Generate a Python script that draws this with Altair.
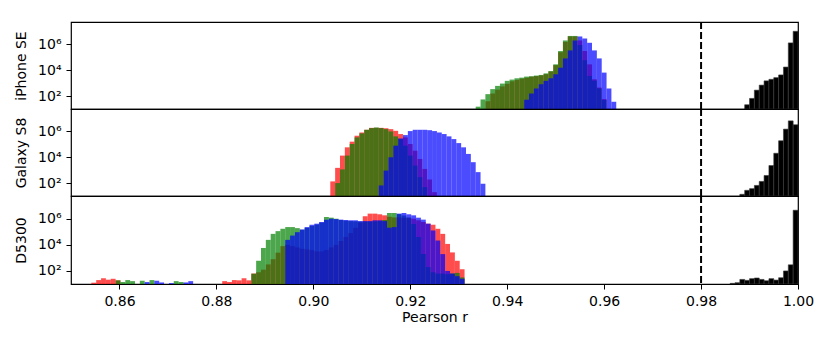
import altair as alt
import pandas as pd

# ---------------- constants ----------------
BIN_WIDTH = 0.001
X_MIN, X_MAX = 0.85, 1.00
Y_MIN, Y_MAX = 10, 5.5e7
X_TICKS = [0.86, 0.88, 0.90, 0.92, 0.94, 0.96, 0.98, 1.00]
Y_TICKS = [1e2, 1e4, 1e6]
THRESHOLD = 0.98
PANELS = ["iPhone SE", "Galaxy S8", "D5300"]
X_TITLE = "Pearson r"

# Histogram heights as log10(count); None = empty bin
# ---- iPhone SE ----
iphone_red_start = 0.9355
iphone_red_log10 = [1.6, 2.2, 2.5, 2.75, 2.95, 3.15, 3.25, 3.35, 3.42, 3.5, 3.55, 3.6,
                    3.7, 3.9, 4.4, 5.4, 6.2, 6.62, 6.62, 6.31, 5.5, 4.46, 3.3, 2.66, 1.77]
iphone_green_start = 0.9335
iphone_green_log10 = [1.18, 1.74, 2.15, 2.54, 2.79, 2.97, 3.18, 3.28, 3.38, 3.43, 3.51, 3.54,
                      3.59, 3.64, 3.76, 3.94, 4.46, 5.49, 6.31, 6.66, 6.66, 5.95, 4.77, 3.56,
                      3.2, 2.6, 1.7]
iphone_blue_start = 0.9435
iphone_blue_log10 = [1.72, 2.2, 2.59, 2.92, 3.18, 3.38, 3.69, 4.2, 4.92, 5.54, 6.31, 6.62,
                     6.46, 6.13, 5.54, 4.92, 3.82, 2.59, 1.56]
iphone_black_start = 0.989
iphone_black_log10 = [1.33, 1.82, 2.46, 2.85, 3.18, 3.3, 3.43, 3.64, 4.25, 6.12, 7.02]

# ---- Galaxy S8 ----
galaxy_red_start = 0.9035
galaxy_red_log10 = [2.13, 3.18, 4.13, 4.77, 5.21, 5.67, 5.92, 6.13, 6.28, 6.28, 6.28, 6.25,
                    6.18, 6.05, 5.8, 5.54, 5.03, 4.51, 3.87, 3.1, 2.28, 1.3]
galaxy_green_start = 0.9045
galaxy_green_log10 = [2.0, 3.06, 4.13, 5.03, 5.54, 5.85, 6.13, 6.26, 6.31, 6.26, 6.18, 6.0,
                      5.62, 5.41, 4.9, 4.13, 3.36, 2.46, 1.69]
galaxy_blue_start = 0.9135
galaxy_blue_log10 = [1.82, 2.97, 4.0, 4.9, 5.46, 5.72, 6.03, 6.13, 6.13, 6.13, 6.1, 6.03,
                     5.92, 5.8, 5.62, 5.41, 5.1, 4.77, 4.26, 3.62, 2.85, 1.95]
galaxy_black_start = 0.988
galaxy_black_log10 = [1.13, 1.44, 1.57, 1.82, 2.13, 2.59, 3.36, 4.31, 5.28, 6.18, 6.82, 6.52]

# ---- D5300 ----
d5300_red_start = 0.8542
d5300_red_log10 = ([1.1, 1.3, 1.44, 1.33, 1.4, 1.28] + [None] * 21 +
                   [1.22, 1.15, 1.3, 1.28, 1.44, 1.28] +
                   [1.8, 1.9, 2.1, 2.5, 2.9, 3.4, 3.9, 4.0, 3.9, 3.8, 3.7, 3.65, 3.6, 3.5,
                    3.5, 3.6, 3.8, 4.0, 4.3, 4.6, 4.9, 5.3, 5.7, 6.19, 6.39, 6.39, 6.34, 6.26,
                    6.15, 6.1, 6.1, 6.08, 6.05, 6.0, 5.88, 5.75, 5.62, 5.54, 5.23, 4.84, 4.07,
                    3.42, 2.78, 2.13])
d5300_green_start = 0.8542
d5300_green_log10 = ([None] * 5 + [1.28, 1.15, 1.3, 1.22, None, 1.25, None, 1.3] + [None] * 4 +
                     [1.22, 1.15] + [None] * 14 +
                     [1.79, 2.78, 3.76, 4.38, 4.84, 5.05, 5.23, 5.36, 5.36, 5.28, 5.15, 5.3,
                      5.45, 5.55, 5.7, 6.13, 6.08, 6.0, 5.9, 5.85, 5.82, 5.8, 5.78, 5.78, 5.78,
                      5.8, 5.82, 5.9, 6.44, 6.44, 6.35, 6.25, 6.1, 5.6, 4.6, 3.3, 2.3, 1.9, 1.8,
                      1.8, 1.75, 1.8, 1.85, 1.5])
d5300_blue_start = 0.8542
d5300_blue_log10 = ([None] * 11 + [1.15, None, 1.25, 1.12, None, 1.07, None, None, 1.12, 1.22] +
                    [None] * 19 +
                    [4.38, 4.71, 4.97, 5.18, 5.36, 5.54, 5.62, 5.75, 5.93, 6.0, 5.97, 5.93,
                     5.9, 5.88, 5.88, 5.82, 5.82, 5.82, 5.88, 5.88, 5.82, 5.31, 5.36, 6.39,
                     6.44, 6.34, 6.26, 6.08, 5.93, 5.62, 5.1, 4.33, 3.29, 2.0, 1.8, 1.6, 1.4])
d5300_black_start = 0.986
d5300_black_log10 = [1.05, 1.1, 1.35, 1.28, 1.41, 1.46, 1.35, 1.25, 1.41, 1.3, 1.48, 2.0, 2.47, 6.65]

SERIES = [
    ("iPhone SE", "red", iphone_red_start, iphone_red_log10),
    ("iPhone SE", "green", iphone_green_start, iphone_green_log10),
    ("iPhone SE", "blue", iphone_blue_start, iphone_blue_log10),
    ("iPhone SE", "black", iphone_black_start, iphone_black_log10),
    ("Galaxy S8", "red", galaxy_red_start, galaxy_red_log10),
    ("Galaxy S8", "green", galaxy_green_start, galaxy_green_log10),
    ("Galaxy S8", "blue", galaxy_blue_start, galaxy_blue_log10),
    ("Galaxy S8", "black", galaxy_black_start, galaxy_black_log10),
    ("D5300", "red", d5300_red_start, d5300_red_log10),
    ("D5300", "green", d5300_green_start, d5300_green_log10),
    ("D5300", "blue", d5300_blue_start, d5300_blue_log10),
    ("D5300", "black", d5300_black_start, d5300_black_log10),
]

rows = []
for panel, s, start, vals in SERIES:
    for k, v in enumerate(vals):
        if v is None:
            continue
        x0 = start + k * BIN_WIDTH
        rows.append({"panel": panel, "series": s, "x0": round(x0, 5),
                     "x1": round(x0 + BIN_WIDTH, 5), "count": 10 ** v})
df = pd.DataFrame(rows)

COLORS = {"red": "#ff0000", "green": "#008000", "blue": "#0000ff", "black": "#000000"}
OPACITY = {"red": 0.7, "green": 0.7, "blue": 0.7, "black": 1.0}

xscale = alt.Scale(domain=[X_MIN, X_MAX], nice=False, zero=False)
yscale = alt.Scale(type="log", domain=[Y_MIN, Y_MAX], nice=False)
LABEL_EXPR = ("datum.value == 100 ? '10\u00b2' : "
              "(datum.value == 10000 ? '10\u2074' : '10\u2076')")


def make_panel(name, bottom, h):
    if bottom:
        xaxis = alt.Axis(values=X_TICKS, format=".2f", tickSize=5, labelPadding=5,
                         titlePadding=2, grid=False, domain=False, labelFlush=False)
    else:
        xaxis = None
    yaxis = alt.Axis(values=Y_TICKS, labelExpr=LABEL_EXPR, tickSize=5, labelPadding=5,
                     grid=False, domain=False, titlePadding=9)
    layers = []
    for s in ["red", "green", "blue", "black"]:
        sub = df[(df.panel == name) & (df.series == s)]
        mk = dict(color=COLORS[s], opacity=OPACITY[s], clip=True)
        if s == "black":
            mk.update(stroke="#3a3a3a", strokeWidth=0.6)
        layers.append(
            alt.Chart(sub).mark_bar(**mk).encode(
                x=alt.X("x0:Q", scale=xscale, axis=xaxis, title=X_TITLE),
                x2="x1:Q",
                y=alt.Y("count:Q", scale=yscale, axis=yaxis, title=name),
                y2=alt.datum(Y_MIN),
            )
        )
    rule = alt.Chart(pd.DataFrame({"x0": [THRESHOLD]})).mark_rule(
        color="black", strokeWidth=2, strokeDash=[7, 3], clip=True
    ).encode(x=alt.X("x0:Q", scale=xscale, axis=xaxis, title=X_TITLE))
    return alt.layer(*layers, rule).properties(width=727, height=h)


chart = alt.vconcat(
    make_panel("iPhone SE", False, 87),
    make_panel("Galaxy S8", False, 87),
    make_panel("D5300", True, 88),
    spacing=0,
    bounds="flush",
).properties(
    padding={"left": 5, "top": 13, "right": 5, "bottom": 5}
).configure(
    font="DejaVu Sans"
).configure_view(
    stroke="black", strokeWidth=1.2
).configure_axis(
    labelFont="DejaVu Sans", titleFont="DejaVu Sans", labelFontSize=14,
    titleFontSize=14, titleFontWeight="normal", labelColor="black",
    titleColor="black", tickColor="black", tickWidth=1
).configure_concat(spacing=0)

chart.save("out.html", embed_options={"renderer": "svg", "actions": False})
